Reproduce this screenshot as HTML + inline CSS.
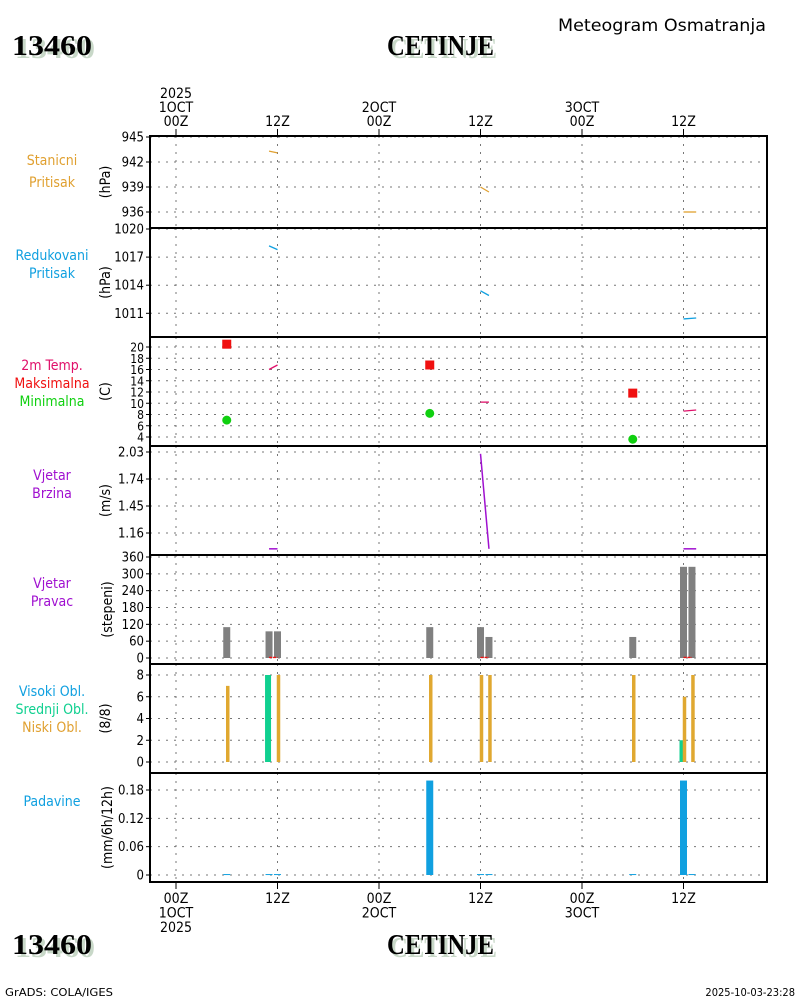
<!DOCTYPE html>
<html><head><meta charset="utf-8">
<style>
html,body{margin:0;padding:0;background:#fff;}
svg{display:block;font-family:"DejaVu Sans Condensed","Liberation Sans",sans-serif;}
</style></head>
<body>
<svg id="c" width="800" height="1000" viewBox="0 0 800 1000">
<text x="558" y="31" font-size="17" fill="#000" textLength="208" lengthAdjust="spacingAndGlyphs">Meteogram Osmatranja</text>
<g>
<text x="15" y="58" font-size="28" font-weight="bold" fill="#c8d8c8" textLength="80" lengthAdjust="spacingAndGlyphs" style="font-family:'Liberation Serif',serif">13460</text>
<text x="12" y="55" font-size="28" font-weight="bold" fill="#000" textLength="80" lengthAdjust="spacingAndGlyphs" style="font-family:'Liberation Serif',serif">13460</text></g>
<g>
<text x="390" y="58" font-size="28" font-weight="bold" fill="#c8d8c8" textLength="107" lengthAdjust="spacingAndGlyphs" style="font-family:'Liberation Serif',serif">CETINJE</text>
<text x="387" y="55" font-size="28" font-weight="bold" fill="#000" textLength="107" lengthAdjust="spacingAndGlyphs" style="font-family:'Liberation Serif',serif">CETINJE</text></g>
<g>
<text x="15" y="957" font-size="28" font-weight="bold" fill="#c8d8c8" textLength="80" lengthAdjust="spacingAndGlyphs" style="font-family:'Liberation Serif',serif">13460</text>
<text x="12" y="954" font-size="28" font-weight="bold" fill="#000" textLength="80" lengthAdjust="spacingAndGlyphs" style="font-family:'Liberation Serif',serif">13460</text></g>
<g>
<text x="390" y="957" font-size="28" font-weight="bold" fill="#c8d8c8" textLength="107" lengthAdjust="spacingAndGlyphs" style="font-family:'Liberation Serif',serif">CETINJE</text>
<text x="387" y="954" font-size="28" font-weight="bold" fill="#000" textLength="107" lengthAdjust="spacingAndGlyphs" style="font-family:'Liberation Serif',serif">CETINJE</text></g>
<text x="5" y="996" font-size="11" textLength="108" lengthAdjust="spacingAndGlyphs">GrADS: COLA/IGES</text>
<text x="795" y="996" font-size="11" text-anchor="end">2025-10-03-23:28</text>
<g id="plot"></g>
</svg>
<script>
// time axis: hours from 00Z 1 OCT
const timeTicks=[0,12,24,36,48,60];
const timeTopLabels=[["2025","1OCT","00Z"],["12Z"],["2OCT","00Z"],["12Z"],["3OCT","00Z"],["12Z"]];
const timeBotLabels=[["00Z","1OCT","2025"],["12Z"],["00Z","2OCT"],["12Z"],["00Z","3OCT"],["12Z"]];
// station pressure segments [h0,v0,h1,v1]
const pstaSegs=[[11,943.3,12,943.1],[36,939.0,37,938.4],[60,936,61.5,936]];
const predSegs=[[11,1018.2,12,1017.8],[36,1013.4,37,1012.9],[60,1010.4,61.5,1010.5]];
const tempSegs=[[11,16,12,16.8],[36,10.2,37,10.2],[60,8.6,61.5,8.8]];
const tmaxHours=[6,30,54];
const tmaxVals=[20.5,16.8,11.8];
const tminHours=[6,30,54];
const tminVals=[7,8.2,3.6];
const windSegs=[[11,0.99,12,0.99],[36,2.01,37,0.99],[60,0.99,61.5,0.99]];
const dirHours=[6,11,12,30,36,37,54,60,61];
const dirVals=[110,95,95,110,110,75,75,325,325];
const lowHours=[6,12,30,36,37,54,60,61];
const lowVals=[7,8,8,8,8,8,6,8];
const midHours=[11,60];
const midVals=[8,2];
const prHours=[6,11,12,30,36,37,54,60,61];
const prVals=[0.002,0.002,0.002,0.2,0.002,0.002,0.002,0.2,0.002];

const NS="http://www.w3.org/2000/svg";
const g=document.getElementById('plot');
const X0=150,X1=767;
const xs=h=>176+h*101.5/12;
function el(t,a,p){const e=document.createElementNS(NS,t);for(const k in a)e.setAttribute(k,a[k]);(p||g).appendChild(e);return e;}
function txt(s,x,y,a,p){const e=el('text',a,p);e.setAttribute('x',x);e.setAttribute('y',y);e.textContent=s;return e;}

const panels=[
 {id:'station-pressure',top:136,bot:228,v0:945,y0:137,v1:936,y1:212,ticks:[945,942,939,936],fmt:v=>v,unit:'(hPa)',labels:[['Stanicni','#e0a030'],['Pritisak','#e0a030']],ly:[165,187]},
 {id:'reduced-pressure',top:228,bot:337,v0:1020,y0:229,v1:1011,y1:313.3,ticks:[1020,1017,1014,1011],fmt:v=>v,unit:'(hPa)',labels:[['Redukovani','#10a0e0'],['Pritisak','#10a0e0']],ly:[260,278]},
 {id:'temperature',top:337,bot:446,v0:20,y0:347,v1:4,y1:437,ticks:[20,18,16,14,12,10,8,6,4],fmt:v=>v,unit:'(C)',labels:[['2m Temp.','#e0106a'],['Maksimalna','#f01010'],['Minimalna','#10d010']],ly:[370,388,406],tf:12},
 {id:'wind-speed',top:446,bot:555,v0:2.03,y0:452,v1:1.16,y1:533,ticks:[2.03,1.74,1.45,1.16],fmt:v=>v.toFixed(2),unit:'(m/s)',labels:[['Vjetar','#a010d0'],['Brzina','#a010d0']],ly:[480,498]},
 {id:'wind-direction',top:555,bot:664,v0:360,y0:557,v1:0,y1:658,ticks:[360,300,240,180,120,60,0],fmt:v=>v,unit:'(stepeni)',labels:[['Vjetar','#a010d0'],['Pravac','#a010d0']],ly:[588,606]},
 {id:'cloud-cover',top:664,bot:773,v0:8,y0:675,v1:0,y1:762,ticks:[8,6,4,2,0],fmt:v=>v,unit:'(8/8)',labels:[['Visoki Obl.','#10a0e0'],['Srednji Obl.','#10d090'],['Niski Obl.','#e0a030']],ly:[696,714,732]},
 {id:'precipitation',top:773,bot:882,v0:0.18,y0:790,v1:0,y1:875,ticks:[0.18,0.12,0.06,0],fmt:v=>v===0?'0':v.toFixed(2),unit:'(mm/6h/12h)',labels:[['Padavine','#10a0e0']],ly:[806]}
];
panels.forEach(p=>{p.ys=v=>p.y0+(v-p.v0)*(p.y1-p.y0)/(p.v1-p.v0);});

panels.forEach(p=>{
 const pg=el('g',{});
 
 
 timeTicks.forEach(h=>el('line',{x1:xs(h),x2:xs(h),y1:p.top,y2:p.bot,stroke:'#777','stroke-dasharray':'2,6','stroke-width':1},pg));
 p.ticks.forEach(v=>{const y=p.ys(v);
  el('line',{x1:X0,x2:X1,y1:y,y2:y,stroke:'#777','stroke-dasharray':'2,6','stroke-width':1},pg);
  el('line',{x1:X0-4,x2:X0,y1:y,y2:y,stroke:'#000','stroke-width':1},pg);
  const t=txt(String(p.fmt(v)),X0-6,y+4.5,{'text-anchor':'end','font-size':p.tf||13},pg);
  
  
 });
 const u=txt(p.unit,0,0,{'font-size':14,transform:`translate(${p.unit.length>8?112:110},${(p.top+p.bot)/2}) rotate(-90)`,'text-anchor':'middle'},pg);
 
 
 p.labels.forEach((l,i)=>{const t=txt(l[0],52,p.ly[i],{'text-anchor':'middle','font-size':14,fill:l[1]},pg);
  
  });
 p.g=pg;
});

function segs(p,arr,col,w){arr.forEach(s=>{const l=el('line',{x1:xs(s[0]),y1:p.ys(s[1]),x2:xs(s[2]),y2:p.ys(s[3]),stroke:col,'stroke-width':w||1.3},p.g);
 
 });}
function bars(p,hs,vs,col,w,off){hs.forEach((h,i)=>{const x=xs(h)+(off||0);const y=p.ys(vs[i]);const yb=p.ys(0);
 const r=el('rect',{x:x-w/2,y:y,width:w,height:Math.max(1,yb-y),fill:col},p.g);
 
 });}

segs(panels[0],pstaSegs,'#e0a030');
segs(panels[1],predSegs,'#10a0e0');
segs(panels[2],tempSegs,'#e0106a');
tmaxHours.forEach((h,i)=>{const r=el('rect',{x:xs(h)-4.5,y:panels[2].ys(tmaxVals[i])-4.5,width:9,height:9,fill:'#f01010'},panels[2].g);
 
 });
tminHours.forEach((h,i)=>{const c=el('circle',{cx:xs(h),cy:panels[2].ys(tminVals[i]),r:4.5,fill:'#10d010'},panels[2].g);
 
 });
segs(panels[3],windSegs,'#a010d0',1.5);
bars(panels[4],dirHours,dirVals,'#808080',7);
[[11,12],[36,37],[60,61]].forEach(s=>{const y=panels[4].ys(2);const l=el('line',{x1:xs(s[0]),x2:xs(s[1]),y1:y,y2:y,stroke:'#f01010','stroke-width':1.3,'stroke-dasharray':'3,1'},panels[4].g);
 
 });
bars(panels[5],midHours,midVals,'#10d090',6,-1);
bars(panels[5],lowHours,lowVals,'#e0a830',3.5,1);
bars(panels[6],prHours,prVals,'#10a0e0',7);

panels.forEach(p=>{el('rect',{x:X0,y:p.top,width:X1-X0,height:p.bot-p.top,fill:'none',stroke:'#000','stroke-width':2},p.g);});
el('line',{x1:X0,x2:X1,y1:136,y2:136,stroke:'#000','stroke-width':1.5,'stroke-dasharray':'3,1'});
const ta=el('g',{});


timeTicks.forEach((h,i)=>{const x=xs(h);el('line',{x1:x,x2:x,y1:129,y2:136,stroke:'#000'},ta);
 const L=timeTopLabels[i];L.forEach((s,j)=>{const t=txt(s,x,126-(L.length-1-j)*14,{'text-anchor':'middle','font-size':14},ta);
  
  });});
const tb=el('g',{});


timeTicks.forEach((h,i)=>{const x=xs(h);el('line',{x1:x,x2:x,y1:882,y2:889,stroke:'#000'},tb);
 timeBotLabels[i].forEach((s,j)=>{const t=txt(s,x,903+j*14.5,{'text-anchor':'middle','font-size':14},tb);
  
  });});
</script>
</body></html>
